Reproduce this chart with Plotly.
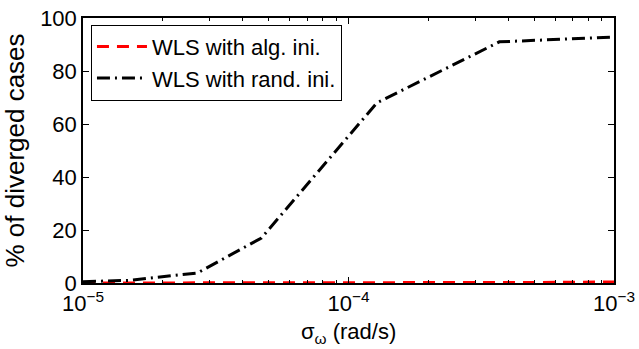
import plotly.graph_objects as go

# Noise level sigma_omega (rad/s) at which each rate was evaluated
sigma_rand = [1e-5, 1.5e-5, 2.7e-5, 4.7e-5, 1.28e-4, 3.7e-4, 1e-3]
# Percentage of diverged cases, WLS started from a random initial guess
pct_rand = [0.5, 1.0, 3.8, 17.0, 68.0, 91.0, 92.8]

sigma_alg = [1e-5, 2e-5, 5e-5, 1e-4, 2e-4, 5e-4, 1e-3]
# Percentage of diverged cases, WLS started from the algebraic initial guess
pct_alg = [0.0, 0.0, 0.0, 0.0, 0.1, 0.2, 0.4]

x_tick_vals = [1e-5, 1e-4, 1e-3]
x_tick_text = ["10<sup>\u22125</sup>", "10<sup>\u22124</sup>", "10<sup>\u22123</sup>"]
y_tick_vals = [0, 20, 40, 60, 80, 100]

# Minor log ticks at 2..9 within each decade
minor_vals = [m * 10 ** e for e in (-5, -4) for m in range(2, 10)]

font = dict(family="Liberation Sans", size=22, color="black")

fig = go.Figure()
fig.add_trace(go.Scatter(
    x=sigma_alg, y=pct_alg, mode="lines", name="WLS with alg. ini.",
    line=dict(color="#ff0000", width=3, dash="12px,8px"),
))
fig.add_trace(go.Scatter(
    x=sigma_rand, y=pct_rand, mode="lines", name="WLS with rand. ini.",
    line=dict(color="black", width=3, dash="13px,5px,2px,5px"),
))

fig.update_layout(
    width=639, height=349,
    margin=dict(l=83, r=25, t=18, b=66, autoexpand=False),
    paper_bgcolor="white", plot_bgcolor="white",
    font=font,
    showlegend=True,
    legend=dict(
        x=0.015, y=0.975, xanchor="left", yanchor="top",
        bordercolor="black", borderwidth=1, bgcolor="white",
        font=font, tracegroupgap=0, itemwidth=50,
    ),
    xaxis=dict(
        type="log", range=[-5, -3], automargin=False,
        tickvals=x_tick_vals, ticktext=x_tick_text,
        ticks="inside", ticklen=6, tickcolor="black",
        minor=dict(tickvals=minor_vals, ticks="inside", ticklen=3, tickcolor="black"),
        showline=True, linecolor="black", linewidth=1.5, mirror="ticks",
        showgrid=False, zeroline=False,
    ),
    yaxis=dict(
        range=[0, 100], tickvals=y_tick_vals, automargin=False,
        ticks="inside", ticklen=6, tickcolor="black",
        showline=True, linecolor="black", linewidth=1.5, mirror="ticks",
        showgrid=False, zeroline=False,
        title=dict(text="% of diverged cases", standoff=10),
    ),
    annotations=[dict(
        text="\u03c3<sub>\u03c9</sub> (rad/s)", xref="paper", yref="paper",
        x=0.5, y=-0.19, xanchor="center", yanchor="middle",
        showarrow=False, font=font,
    )],
)

fig.write_html("out.html")
